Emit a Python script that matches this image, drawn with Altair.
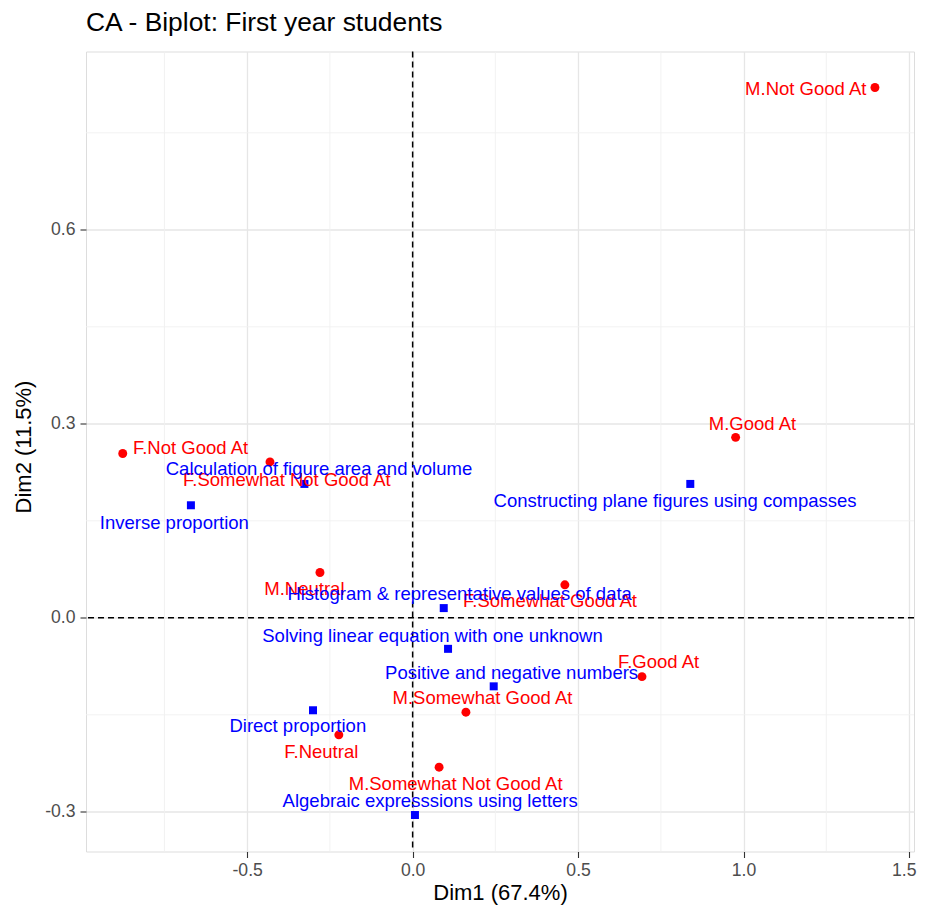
import altair as alt
import pandas as pd

# ---- data ----
row_names = ["M.Not Good At", "M.Good At", "F.Not Good At", "F.Somewhat Not Good At",
             "M.Neutral", "F.Somewhat Good At", "F.Good At", "M.Somewhat Good At",
             "F.Neutral", "M.Somewhat Not Good At"]
row_dim1 = [1.397, 0.976, -0.876, -0.431, -0.280, 0.460, 0.693, 0.161, -0.223, 0.080]
row_dim2 = [0.820, 0.279, 0.254, 0.241, 0.070, 0.051, -0.091, -0.146, -0.181, -0.231]
row_label_dim1 = [1.188, 1.027, -0.671, -0.380, -0.327, 0.415, 0.743, 0.211, -0.276, 0.130]
row_label_dim2 = [0.808, 0.290, 0.254, 0.204, 0.035, 0.016, -0.078, -0.134, -0.217, -0.266]

col_names = ["Calculation of figure area and volume", "Inverse proportion",
             "Constructing plane figures using compasses",
             "Histogram & representative values of data",
             "Solving linear equation with one unknown",
             "Positive and negative numbers", "Direct proportion",
             "Algebraic expresssions using letters"]
col_dim1 = [-0.327, -0.670, 0.839, 0.094, 0.107, 0.245, -0.301, 0.007]
col_dim2 = [0.207, 0.174, 0.207, 0.015, -0.048, -0.106, -0.143, -0.305]
col_label_dim1 = [-0.283, -0.720, 0.793, 0.142, 0.060, 0.299, -0.347, 0.053]
col_label_dim2 = [0.221, 0.138, 0.172, 0.028, -0.037, -0.094, -0.177, -0.293]

x_major = [-0.5, 0.0, 0.5, 1.0, 1.5]
y_major = [-0.3, 0.0, 0.3, 0.6]
x_minor = [-0.75, -0.25, 0.25, 0.75, 1.25]
y_minor = [-0.15, 0.15, 0.45, 0.75]
x_domain = [-0.987, 1.515]
y_domain = [-0.3614, 0.8757]

FONT = "Liberation Sans"
RED = "#FF0000"
BLUE = "#0000FF"

rows = pd.DataFrame({"name": row_names, "x": row_dim1, "y": row_dim2,
                     "lx": row_label_dim1, "ly": row_label_dim2})
cols = pd.DataFrame({"name": col_names, "x": col_dim1, "y": col_dim2,
                     "lx": col_label_dim1, "ly": col_label_dim2})

label_expr = "datum.value < 0 ? '-' + format(-datum.value, '.1f') : format(datum.value, '.1f')"

x_axis = alt.Axis(values=x_major, labelExpr=label_expr, grid=True, gridColor="#E6E6E6",
                  gridWidth=1.3, domain=False, tickColor="#333333", tickSize=6, tickWidth=1.1,
                  labelColor="#4D4D4D", labelFont=FONT, labelFontSize=17.6, labelPadding=4,
                  labelAlign={"condition": {"test": "datum.value >= 1.5", "value": "right"},
                              "value": "center"},
                  labelOffset={"condition": {"test": "datum.value >= 1.5", "value": 7},
                               "value": 0},
                  title="Dim1 (67.4%)", titleFont=FONT, titleFontSize=22, titleFontWeight="normal",
                  titleColor="black", titleY=47.5, titleBaseline="alphabetic")
y_axis = alt.Axis(values=y_major, labelExpr=label_expr, grid=True, gridColor="#E6E6E6",
                  gridWidth=1.3, domain=False, tickColor="#333333", tickSize=6, tickWidth=1.1,
                  labelColor="#4D4D4D", labelFont=FONT, labelFontSize=17.6, labelPadding=5,
                  title="Dim2 (11.5%)", titleFont=FONT, titleFontSize=22, titleFontWeight="normal",
                  titleColor="black", titleX=-63, titleY=395, titleAngle=-90,
                  titleBaseline="middle", titleAlign="center")

xs = alt.Scale(domain=x_domain, nice=False, zero=False)
ys = alt.Scale(domain=y_domain, nice=False, zero=False)


def X(field):
    return alt.X(f"{field}:Q", scale=xs, axis=x_axis)


def Y(field):
    return alt.Y(f"{field}:Q", scale=ys, axis=y_axis)


minor_x = alt.Chart(pd.DataFrame({"x": x_minor})).mark_rule(
    color="#F0F0F0", strokeWidth=0.9).encode(x=X("x"))
minor_y = alt.Chart(pd.DataFrame({"y": y_minor})).mark_rule(
    color="#F0F0F0", strokeWidth=0.9).encode(y=Y("y"))

zero_x = alt.Chart(pd.DataFrame({"x": [0.0]})).mark_rule(
    color="black", strokeWidth=1.5, strokeDash=[6, 4]).encode(x=X("x"))
zero_y = alt.Chart(pd.DataFrame({"y": [0.0]})).mark_rule(
    color="black", strokeWidth=1.5, strokeDash=[6, 4]).encode(y=Y("y"))

row_pts = alt.Chart(rows).mark_point(shape="circle", filled=True, size=80, color=RED,
                                     opacity=1).encode(x=X("x"), y=Y("y"))
col_pts = alt.Chart(cols).mark_point(shape="square", filled=True, size=64, color=BLUE,
                                     opacity=1).encode(x=X("x"), y=Y("y"))

row_txt = alt.Chart(rows).mark_text(font=FONT, fontSize=18.5, color=RED, align="center",
                                    baseline="alphabetic").encode(
    x=X("lx"), y=Y("ly"), text="name:N")
col_txt = alt.Chart(cols).mark_text(font=FONT, fontSize=18.5, color=BLUE, align="center",
                                    baseline="alphabetic").encode(
    x=X("lx"), y=Y("ly"), text="name:N")

chart = alt.layer(minor_x, minor_y, zero_x, zero_y, row_pts, col_pts, row_txt, col_txt).properties(
    width=828, height=800,
    autosize=alt.AutoSizeParams(type="none"),
    padding={"left": 78, "top": 43.5, "right": 4, "bottom": 53},
    title=alt.TitleParams("CA - Biplot: First year students", anchor="start", frame="group",
                          font=FONT, fontSize=26.4, fontWeight="normal", color="black",
                          baseline="alphabetic", offset=18, dy=25),
).configure_view(stroke="#333333", strokeWidth=1.1).configure(background="white")

chart.save("out.html", embed_options={"renderer": "svg", "actions": False})
